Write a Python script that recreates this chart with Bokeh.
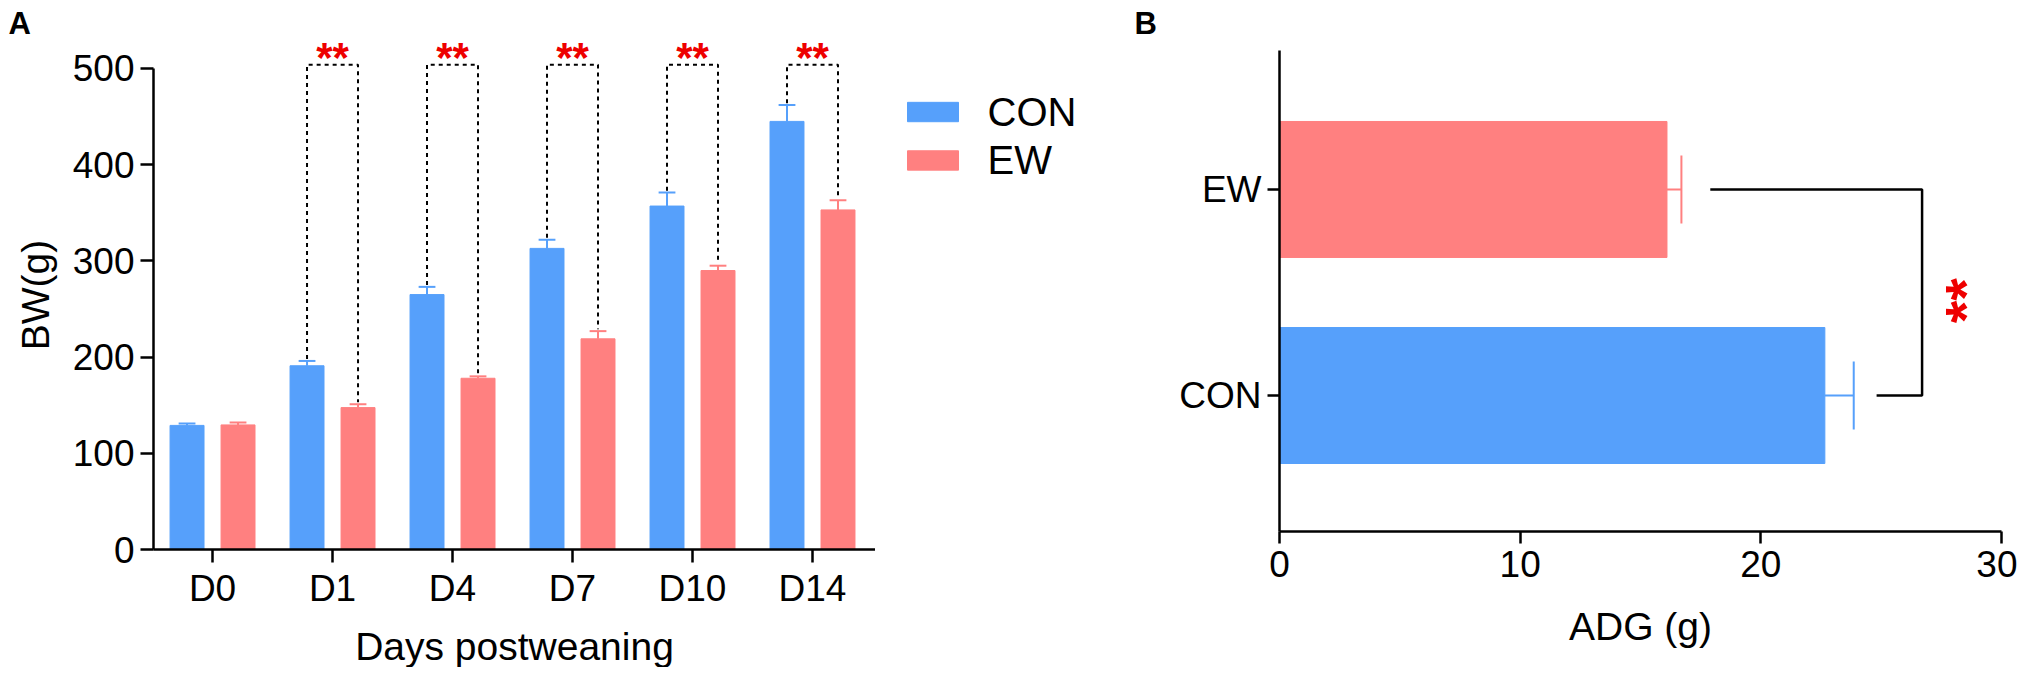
import numpy as np
from bokeh.plotting import figure
from bokeh.layouts import row
from bokeh.models import Range1d, FixedTicker
from bokeh.core.properties import value
from bokeh.embed import file_html
from bokeh.resources import INLINE

# ---------------- data ----------------
days = ["D0", "D1", "D4", "D7", "D10", "D14"]
con_bw = [129, 191, 265, 313, 357, 445]
con_bw_err = [2, 5, 8, 9, 14, 17]
ew_bw = [129.5, 147.5, 178, 219, 290, 353]
ew_bw_err = [2.5, 3.5, 2, 8, 5, 10]
sig_days = ["D1", "D4", "D7", "D10", "D14"]

groups = ["CON", "EW"]
adg = [22.66, 16.1]
adg_err = [1.2, 0.6]

BLUE = "#56A0FB"
PINK = "#FF8080"
RED = "#EE0000"
FONT = "Liberation Sans"


def style_axis(ax, tick_len):
    ax.axis_line_width = 2.5
    ax.axis_line_color = "black"
    ax.major_tick_line_width = 2.5
    ax.major_tick_line_color = "black"
    ax.major_tick_out = tick_len
    ax.major_tick_in = 0
    ax.minor_tick_out = 0
    ax.minor_tick_in = 0
    ax.major_label_text_font = FONT
    ax.major_label_text_font_size = "37px"
    ax.major_label_text_color = "black"
    ax.axis_label_text_font = FONT
    ax.axis_label_text_font_size = "39px"
    ax.axis_label_text_font_style = "normal"
    ax.axis_label_text_color = "black"


def style_title(p, txt, off):
    p.title.text = txt
    p.title.align = "left"
    p.title.offset = off
    p.title.standoff = 0
    p.title.text_font = FONT
    p.title.text_font_size = "31px"
    p.title.text_font_style = "bold"
    p.title.text_color = "black"


# ---------------- panel A ----------------
pA = figure(frame_width=722, frame_height=509, min_border_left=153, min_border_right=0,
            min_border_top=35, min_border_bottom=115,
            x_range=Range1d(0.008, 6.025), y_range=Range1d(0, 529.1),
            output_backend="svg", toolbar_location=None)
pA.outline_line_color = None
pA.grid.visible = False
style_title(pA, "A", -145)

idx = np.arange(len(days)) + 0.5
off = 0.2125
bw = 0.283
xb = idx - off
xp = idx + off
pA.vbar(x=xb, top=con_bw, width=bw, color=BLUE)
pA.vbar(x=xp, top=ew_bw, width=bw, color=PINK)

cb = np.array(con_bw); ce = np.array(con_bw_err)
eb = np.array(ew_bw); ee = np.array(ew_bw_err)
cap = 0.07
pA.segment(x0=xb, y0=cb, x1=xb, y1=cb + ce, color=BLUE, line_width=2)
pA.segment(x0=xb - cap, y0=cb + ce, x1=xb + cap, y1=cb + ce, color=BLUE, line_width=2)
pA.segment(x0=xp, y0=eb, x1=xp, y1=eb + ee, color=PINK, line_width=2)
pA.segment(x0=xp - cap, y0=eb + ee, x1=xp + cap, y1=eb + ee, color=PINK, line_width=2)

top_y = 504
xs, ys = [], []
for d in sig_days:
    i = days.index(d)
    xs.append([xb[i], xb[i], xp[i], xp[i]])
    ys.append([cb[i] + ce[i] + 2, top_y, top_y, eb[i] + ee[i] + 2])
pA.multi_line(xs=xs, ys=ys, line_color="black", line_width=2, line_dash="4 4")
sx = [idx[days.index(d)] for d in sig_days]
pA.text(x=sx, y=[511] * len(sx), text=["**"] * len(sx), text_color=RED,
        text_font=value(FONT), text_font_size="42px", text_font_style="bold",
        text_align="center", text_baseline="middle")

style_axis(pA.xaxis[0], 13)
style_axis(pA.yaxis[0], 13)
pA.yaxis.bounds = (0, 500)
pA.yaxis.ticker = FixedTicker(ticks=[0, 100, 200, 300, 400, 500])
pA.yaxis.axis_label = "BW(g)"
pA.yaxis.major_label_standoff = 6
pA.yaxis.axis_label_standoff = 13
pA.xaxis.ticker = FixedTicker(ticks=list(idx))
pA.xaxis.major_label_overrides = {float(v): d for v, d in zip(idx, days)}
pA.xaxis.axis_label = "Days postweaning"
pA.xaxis.major_label_standoff = 5
pA.xaxis.axis_label_standoff = 13

# ---------------- legend panel (pixel coordinates) ----------------
pL = figure(width=217, height=659, min_border=0, x_axis_location=None, y_axis_location=None,
            x_range=Range1d(0, 217), y_range=Range1d(659, 0),
            output_backend="svg", toolbar_location=None)
pL.outline_line_color = None
pL.grid.visible = False
leg_y = [96, 161]
pL.rect(x=[57.5] * 2, y=leg_y, width=51, height=26, color=[BLUE, PINK])
pL.text(x=[112] * 2, y=leg_y, text=groups, text_font=value(FONT), text_font_size="40px",
        text_align="left", text_baseline="middle", text_color="black")

# ---------------- panel B ----------------
pB = figure(frame_width=722, frame_height=491, min_border_left=187, min_border_right=16,
            min_border_top=40, min_border_bottom=128,
            x_range=Range1d(0, 30), y_range=Range1d(0.34, 2.723),
            output_backend="svg", toolbar_location=None)
pB.outline_line_color = None
pB.grid.visible = False
style_title(pB, "B", -145)

ypos = np.arange(len(groups)) + 1.0
pB.hbar(y=ypos, right=adg, height=0.66, left=0, color=[BLUE, PINK])
a = np.array(adg); ae = np.array(adg_err)
pB.segment(x0=a, y0=ypos, x1=a + ae, y1=ypos, color=[BLUE, PINK], line_width=2)
pB.segment(x0=a + ae, y0=ypos - 0.165, x1=a + ae, y1=ypos + 0.165, color=[BLUE, PINK], line_width=2)

br_right = 26.7
pB.line(x=[a[1] + ae[1] + 1.2, br_right, br_right, a[0] + ae[0] + 0.95],
        y=[ypos[1], ypos[1], ypos[0], ypos[0]], line_color="black", line_width=2.5)
pB.text(x=[28.5], y=[1.46], text=["**"], angle=np.pi / 2, text_color=RED,
        text_font=value(FONT), text_font_size="58px", text_font_style="bold",
        text_align="center", text_baseline="middle")

style_axis(pB.xaxis[0], 12)
style_axis(pB.yaxis[0], 12)
pB.xaxis.bounds = (0, 30)
pB.xaxis.ticker = FixedTicker(ticks=[0, 10, 20, 30])
pB.xaxis.axis_label = "ADG (g)"
pB.xaxis.major_label_standoff = 7
pB.xaxis.axis_label_standoff = 25
pB.yaxis.bounds = (0.34, 2.675)
pB.yaxis.ticker = FixedTicker(ticks=list(ypos))
pB.yaxis.major_label_overrides = {float(v): g for v, g in zip(ypos, groups)}
pB.yaxis.major_label_standoff = 6

layout = row(pA, pL, pB)
open("out.html", "w").write(file_html(layout, INLINE))
